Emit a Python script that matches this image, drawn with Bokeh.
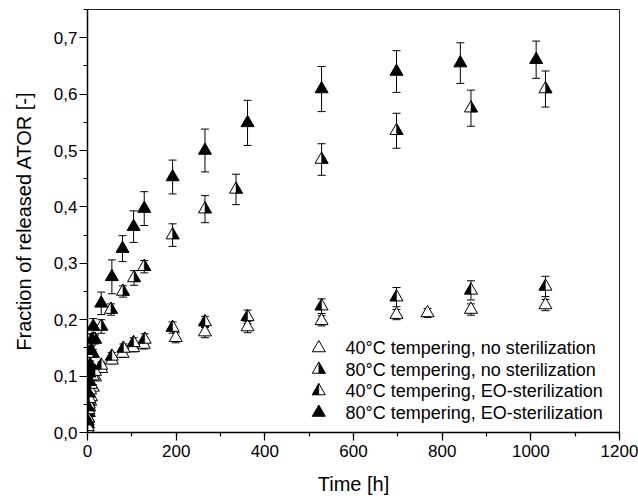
import numpy as np
from bokeh.plotting import figure
from bokeh.models import ColumnDataSource, Whisker, TeeHead, FixedTicker, Range1d, CustomJSTickFormatter
from bokeh.core.properties import value
from bokeh.embed import file_html
from bokeh.resources import INLINE

FONT = "Liberation Sans"

# ---------------- data ----------------
x_ticks = [0, 200, 400, 600, 800, 1000, 1200]
x_minor = [0, 100, 200, 300, 400, 500, 600, 700, 800, 900, 1000, 1100, 1200]
y_ticks = [0.0, 0.1, 0.2, 0.3, 0.4, 0.5, 0.6, 0.7]
y_minor = [0.0, 0.05, 0.1, 0.15, 0.2, 0.25, 0.3, 0.35, 0.4, 0.45, 0.5, 0.55, 0.6, 0.65, 0.7, 0.75]

labels = ["40\u00b0C tempering, no sterilization",
          "80\u00b0C tempering, no sterilization",
          "40\u00b0C tempering, EO-sterilization",
          "80\u00b0C tempering, EO-sterilization"]

# 40 C, no sterilization (open triangles)
t1 = [0.5, 1, 2, 3, 4, 6, 8, 12, 17, 31, 55, 79, 103, 127, 199, 265, 361, 528, 697, 767, 865, 1033]
v1 = [0.005, 0.015, 0.025, 0.035, 0.045, 0.055, 0.063, 0.08, 0.098, 0.113, 0.128, 0.14, 0.15, 0.156,
      0.168, 0.178, 0.187, 0.198, 0.209, 0.212, 0.218, 0.226]
e1 = [0.002, 0.002, 0.003, 0.003, 0.003, 0.004, 0.004, 0.005, 0.005, 0.006, 0.006, 0.007, 0.007, 0.008,
      0.009, 0.01, 0.01, 0.009, 0.009, 0.008, 0.01, 0.01]

# 80 C, no sterilization (right half filled)
t2 = [0.5, 1, 2, 3, 4, 6, 8, 12, 17, 31, 53, 80, 105, 128, 192, 265, 335, 528, 697, 865, 1033]
v2 = [0.015, 0.035, 0.055, 0.07, 0.085, 0.1, 0.115, 0.14, 0.165, 0.188, 0.218, 0.25, 0.274, 0.294,
      0.35, 0.396, 0.431, 0.484, 0.535, 0.575, 0.609]
e2 = [0.003, 0.003, 0.004, 0.004, 0.005, 0.005, 0.006, 0.007, 0.008, 0.012, 0.01, 0.01, 0.013, 0.011,
      0.02, 0.024, 0.027, 0.028, 0.031, 0.032, 0.032]

# 40 C, EO-sterilization (left half filled)
t3 = [0.5, 1, 2, 3, 4, 6, 8, 12, 17, 31, 55, 81, 104, 129, 192, 265, 361, 528, 697, 865, 1033]
v3 = [0.01, 0.025, 0.04, 0.05, 0.06, 0.075, 0.085, 0.1, 0.108, 0.119, 0.135, 0.149, 0.159, 0.165,
      0.186, 0.196, 0.205, 0.224, 0.240, 0.252, 0.259]
e3 = [0.002, 0.002, 0.003, 0.003, 0.003, 0.004, 0.004, 0.005, 0.005, 0.006, 0.007, 0.008, 0.009, 0.01,
      0.01, 0.01, 0.012, 0.013, 0.017, 0.017, 0.018]

# 80 C, EO-sterilization (filled)
t4 = [0.5, 1, 2, 3, 4, 6, 8, 10, 13, 31, 55, 79, 104, 128, 192, 265, 361, 528, 697, 841, 1012]
v4 = [0.02, 0.045, 0.07, 0.09, 0.105, 0.12, 0.145, 0.165, 0.188, 0.229, 0.276, 0.326, 0.365, 0.397,
      0.453, 0.50, 0.549, 0.609, 0.640, 0.655, 0.661]
e4 = [0.003, 0.004, 0.005, 0.006, 0.006, 0.007, 0.008, 0.01, 0.014, 0.02, 0.03, 0.023, 0.028, 0.03,
      0.03, 0.038, 0.04, 0.04, 0.037, 0.036, 0.033]

# ---------------- layout ----------------
W, H = 638, 499
BL, BR, BT, BB = 87, 19, 9, 67
FW = W - BL - BR
FH = H - BT - BB
X0, X1 = 0, 1200
Y0, Y1 = 0, 0.75
kx = FW / (X1 - X0)
ky = FH / (Y1 - Y0)
MS = 13

p = figure(width=W, height=H, x_range=Range1d(X0, X1), y_range=Range1d(Y0, Y1),
           output_backend="svg", toolbar_location=None,
           min_border_left=BL, min_border_right=BR, min_border_top=BT, min_border_bottom=BB)
p.xgrid.visible = False
p.ygrid.visible = False
p.outline_line_color = "#222222"
p.outline_line_width = 1
p.background_fill_color = "white"
p.border_fill_color = "white"

for ax in (p.xaxis[0], p.yaxis[0]):
    ax.axis_line_width = 1.5
    ax.axis_line_color = "black"
    ax.major_tick_line_color = "black"
    ax.minor_tick_line_color = "black"
    ax.major_tick_line_width = 1.2
    ax.minor_tick_line_width = 1.2
    ax.major_tick_in = 0
    ax.major_tick_out = 8
    ax.minor_tick_in = 0
    ax.minor_tick_out = 4
    ax.major_label_text_font = FONT
    ax.major_label_text_font_size = "17px"
    ax.major_label_text_color = "black"
    ax.axis_label_text_font = FONT
    ax.axis_label_text_font_size = "20px"
    ax.axis_label_text_font_style = "normal"
    ax.axis_label_text_color = "black"

p.xaxis.ticker = FixedTicker(ticks=x_ticks, minor_ticks=x_minor)
p.yaxis.ticker = FixedTicker(ticks=y_ticks, minor_ticks=y_minor)
p.yaxis.formatter = CustomJSTickFormatter(code="return tick.toFixed(1).replace('.', ',');")
p.xaxis.axis_label = "Time [h]"
p.yaxis.axis_label = "Fraction of released ATOR [-]"
p.xaxis.major_label_standoff = 4
p.xaxis.axis_label_standoff = 13
p.yaxis.major_label_standoff = 2
p.yaxis.axis_label_standoff = 16


def half_tri(ts, vs, side):
    r = MS / 2.0
    h = r * np.sqrt(3)
    a = h / 3.0
    xs, ys = [], []
    for t, v in zip(ts, vs):
        xs.append([t, t, t + side * r / kx])
        ys.append([v + (h - a) / ky, v - a / ky, v - a / ky])
    return xs, ys


def draw_marker(ts, vs, kind):
    if kind == "filled":
        p.scatter(ts, vs, marker="triangle", size=MS, fill_color="black", line_color="black", line_width=1)
        return
    p.scatter(ts, vs, marker="triangle", size=MS, fill_color="white", line_color="black", line_width=1)
    if kind in ("right", "left"):
        xs, ys = half_tri(ts, vs, 1 if kind == "right" else -1)
        p.patches(xs, ys, fill_color="black", line_color="black", line_width=0.5)


def draw_err(ts, vs, es):
    vv = np.array(vs)
    ee = np.array(es)
    src = ColumnDataSource(dict(t=ts, lo=vv - ee, hi=vv + ee))
    w = Whisker(base="t", lower="lo", upper="hi", source=src, dimension="height",
                line_color="black", line_width=1, level="underlay",
                upper_head=TeeHead(size=8, line_color="black", line_width=1),
                lower_head=TeeHead(size=8, line_color="black", line_width=1))
    p.add_layout(w)


series = [(t1, v1, e1, "open"), (t2, v2, e2, "right"), (t3, v3, e3, "left"), (t4, v4, e4, "filled")]
for ts, vs, es, kind in series:
    draw_err(ts, vs, es)
for ts, vs, es, kind in series:
    draw_marker(ts, vs, kind)

# ---------------- legend (drawn manually to allow half-filled markers) ----------------
LEG_MARK_PX = 318.3 - BL      # marker centre, px from frame left
LEG_TEXT_PX = 345 - BL        # text start, px from frame left
LEG_ROW0_PX = 432 - 347.5     # first row, px above frame bottom
LEG_DY_PX = 21.5
for i, (lab, (_, _, _, kind)) in enumerate(zip(labels, series)):
    vrow = (LEG_ROW0_PX - i * LEG_DY_PX) / ky
    draw_marker([LEG_MARK_PX / kx], [vrow], kind)
    p.text(x=[LEG_TEXT_PX / kx], y=[vrow], text=[lab], text_font=value(FONT),
           text_font_size="18px", text_align="left", text_baseline="middle", text_color="black")

open("out.html", "w").write(file_html(p, INLINE))
